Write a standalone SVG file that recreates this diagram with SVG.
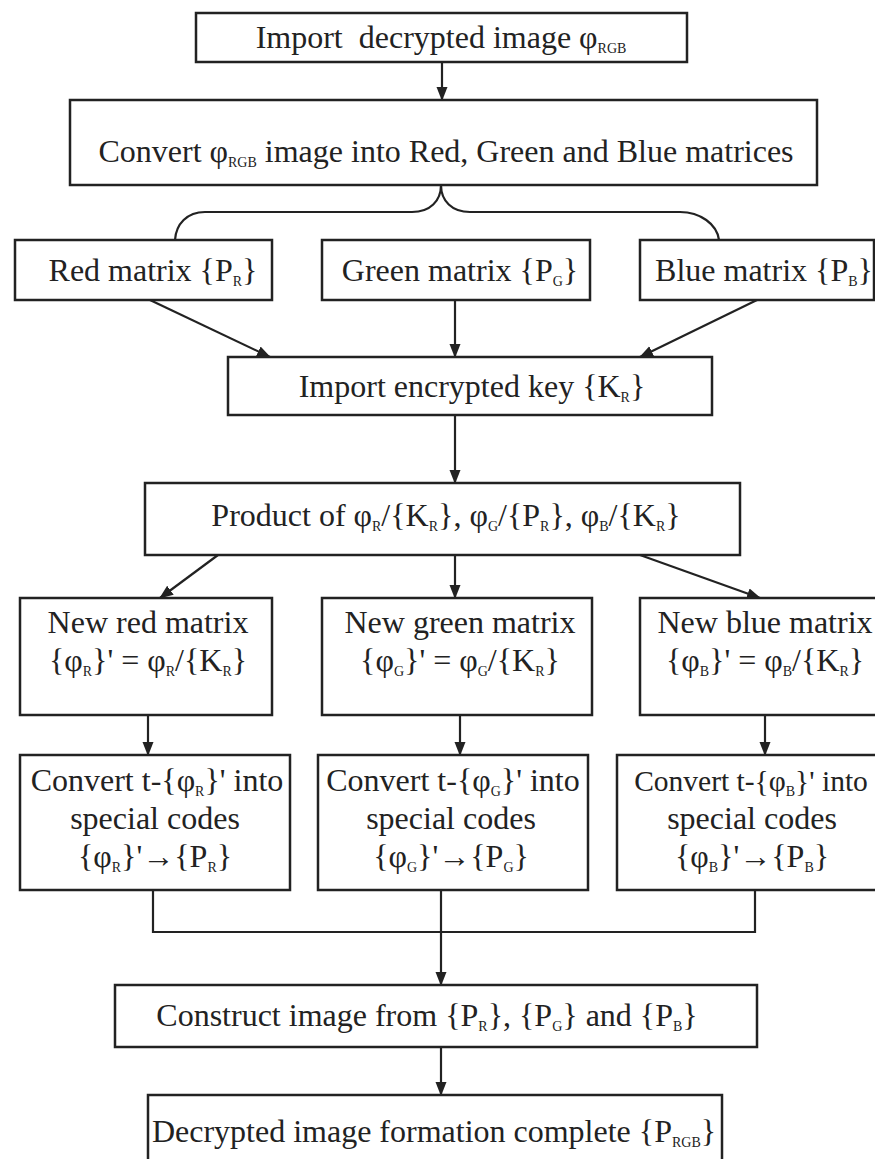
<svg xmlns="http://www.w3.org/2000/svg" width="875" height="1159" viewBox="0 0 875 1159">
<defs>
<style>
.box{fill:#fff;stroke:#222;stroke-width:2.5}
.t{font-family:"Liberation Serif","Times New Roman",serif;font-size:32px;fill:#222;text-anchor:middle}
.s{font-size:14px}
.ln{fill:none;stroke:#222;stroke-width:2.2}
</style>
<marker id="ah" markerUnits="userSpaceOnUse" markerWidth="14" markerHeight="14" viewBox="0 0 14 14" refX="13" refY="7" orient="auto">
<path d="M0,1.5 L14,7 L0,12.5 Z" fill="#222"/>
</marker>
</defs>
<rect width="875" height="1159" fill="#fff"/>

<g id="connectors">
<line class="ln" x1="442" y1="62" x2="442" y2="100" marker-end="url(#ah)"/>
<path class="ln" d="M441,185 C441,201 430,212 412,212 L205,212 C187,212 176,224 175,240"/>
<path class="ln" d="M441,185 C441,201 452,212 470,212 L680,212 C700,212 717,224 719,240"/>
<line class="ln" x1="150" y1="300" x2="270" y2="357" marker-end="url(#ah)"/>
<line class="ln" x1="455" y1="300" x2="455" y2="357" marker-end="url(#ah)"/>
<line class="ln" x1="757" y1="300" x2="640" y2="357" marker-end="url(#ah)"/>
<line class="ln" x1="455" y1="415" x2="455" y2="483" marker-end="url(#ah)"/>
<line class="ln" x1="218" y1="555" x2="160" y2="598" marker-end="url(#ah)"/>
<line class="ln" x1="455" y1="555" x2="455" y2="598" marker-end="url(#ah)"/>
<line class="ln" x1="640" y1="555" x2="760" y2="598" marker-end="url(#ah)"/>
<line class="ln" x1="148" y1="715" x2="148" y2="755" marker-end="url(#ah)"/>
<line class="ln" x1="460" y1="715" x2="460" y2="755" marker-end="url(#ah)"/>
<line class="ln" x1="765" y1="715" x2="765" y2="755" marker-end="url(#ah)"/>
<polyline class="ln" points="153,890 153,932 755,932 755,890"/>
<line class="ln" x1="441" y1="890" x2="441" y2="985" marker-end="url(#ah)"/>
<line class="ln" x1="441" y1="1047" x2="441" y2="1095" marker-end="url(#ah)"/>
</g>

<g id="import-image">
<rect class="box" x="196" y="13" width="491" height="49"/>
<text class="t" x="441" y="48" xml:space="preserve">Import  decrypted image φ<tspan class="s" dy="5">RGB</tspan></text>
</g>

<g id="convert-rgb">
<rect class="box" x="70" y="100" width="747" height="85"/>
<text class="t" x="446" y="162">Convert φ<tspan class="s" dy="5">RGB</tspan><tspan dy="-5"> image into Red, Green and Blue matrices</tspan></text>
</g>

<g id="red-matrix">
<rect class="box" x="15" y="240" width="257" height="60"/>
<text class="t" x="153" y="281">Red matrix {P<tspan class="s" dy="5">R</tspan><tspan dy="-5">}</tspan></text>
</g>
<g id="green-matrix">
<rect class="box" x="322" y="240" width="268" height="60"/>
<text class="t" x="460" y="281">Green matrix {P<tspan class="s" dy="5">G</tspan><tspan dy="-5">}</tspan></text>
</g>
<g id="blue-matrix">
<rect class="box" x="640" y="240" width="234" height="60"/>
<text class="t" x="764" y="281">Blue matrix {P<tspan class="s" dy="5">B</tspan><tspan dy="-5">}</tspan></text>
</g>

<g id="import-key">
<rect class="box" x="228" y="357" width="484" height="58"/>
<text class="t" x="472" y="397">Import encrypted key {K<tspan class="s" dy="5">R</tspan><tspan dy="-5">}</tspan></text>
</g>

<g id="product">
<rect class="box" x="145" y="483" width="595" height="72"/>
<text class="t" x="446" y="526">Product of φ<tspan class="s" dy="5">R</tspan><tspan dy="-5">/{K</tspan><tspan class="s" dy="5">R</tspan><tspan dy="-5">}, φ</tspan><tspan class="s" dy="5">G</tspan><tspan dy="-5">/{P</tspan><tspan class="s" dy="5">R</tspan><tspan dy="-5">}, φ</tspan><tspan class="s" dy="5">B</tspan><tspan dy="-5">/{K</tspan><tspan class="s" dy="5">R</tspan><tspan dy="-5">}</tspan></text>
</g>

<g id="new-red">
<rect class="box" x="20" y="598" width="252" height="117"/>
<text class="t" x="148" y="633">New red matrix</text>
<text class="t" x="148" y="671">{φ<tspan class="s" dy="5">R</tspan><tspan dy="-5">}' = φ</tspan><tspan class="s" dy="5">R</tspan><tspan dy="-5">/{K</tspan><tspan class="s" dy="5">R</tspan><tspan dy="-5">}</tspan></text>
</g>
<g id="new-green">
<rect class="box" x="322" y="598" width="270" height="117"/>
<text class="t" x="460" y="633">New green matrix</text>
<text class="t" x="460" y="671">{φ<tspan class="s" dy="5">G</tspan><tspan dy="-5">}' = φ</tspan><tspan class="s" dy="5">G</tspan><tspan dy="-5">/{K</tspan><tspan class="s" dy="5">R</tspan><tspan dy="-5">}</tspan></text>
</g>
<g id="new-blue">
<rect class="box" x="640" y="598" width="240" height="117"/>
<text class="t" x="765" y="633">New blue matrix</text>
<text class="t" x="765" y="671">{φ<tspan class="s" dy="5">B</tspan><tspan dy="-5">}' = φ</tspan><tspan class="s" dy="5">B</tspan><tspan dy="-5">/{K</tspan><tspan class="s" dy="5">R</tspan><tspan dy="-5">}</tspan></text>
</g>

<g id="convert-red">
<rect class="box" x="20" y="755" width="270" height="135"/>
<text class="t" x="157" y="791">Convert t-{φ<tspan class="s" dy="5">R</tspan><tspan dy="-5">}' into</tspan></text>
<text class="t" x="155" y="829">special codes</text>
<text class="t" x="155" y="867">{φ<tspan class="s" dy="5">R</tspan><tspan dy="-5">}'→{P</tspan><tspan class="s" dy="5">R</tspan><tspan dy="-5">}</tspan></text>
</g>
<g id="convert-green">
<rect class="box" x="318" y="755" width="270" height="135"/>
<text class="t" x="453" y="791">Convert t-{φ<tspan class="s" dy="5">G</tspan><tspan dy="-5">}' into</tspan></text>
<text class="t" x="451" y="829">special codes</text>
<text class="t" x="451" y="867">{φ<tspan class="s" dy="5">G</tspan><tspan dy="-5">}'→{P</tspan><tspan class="s" dy="5">G</tspan><tspan dy="-5">}</tspan></text>
</g>
<g id="convert-blue">
<rect class="box" x="617" y="755" width="270" height="135"/>
<text class="t" x="751" y="791" style="font-size:29.5px">Convert t-{φ<tspan class="s" dy="5">B</tspan><tspan dy="-5">}' into</tspan></text>
<text class="t" x="752" y="829">special codes</text>
<text class="t" x="752" y="867">{φ<tspan class="s" dy="5">B</tspan><tspan dy="-5">}'→{P</tspan><tspan class="s" dy="5">B</tspan><tspan dy="-5">}</tspan></text>
</g>

<g id="construct">
<rect class="box" x="115" y="985" width="642" height="62"/>
<text class="t" x="427" y="1026">Construct image from {P<tspan class="s" dy="5">R</tspan><tspan dy="-5">}, {P</tspan><tspan class="s" dy="5">G</tspan><tspan dy="-5">} and {P</tspan><tspan class="s" dy="5">B</tspan><tspan dy="-5">}</tspan></text>
</g>

<g id="complete">
<rect class="box" x="148" y="1095" width="574" height="80"/>
<text class="t" x="434" y="1142">Decrypted image formation complete {P<tspan class="s" dy="5">RGB</tspan><tspan dy="-5">}</tspan></text>
</g>
</svg>
